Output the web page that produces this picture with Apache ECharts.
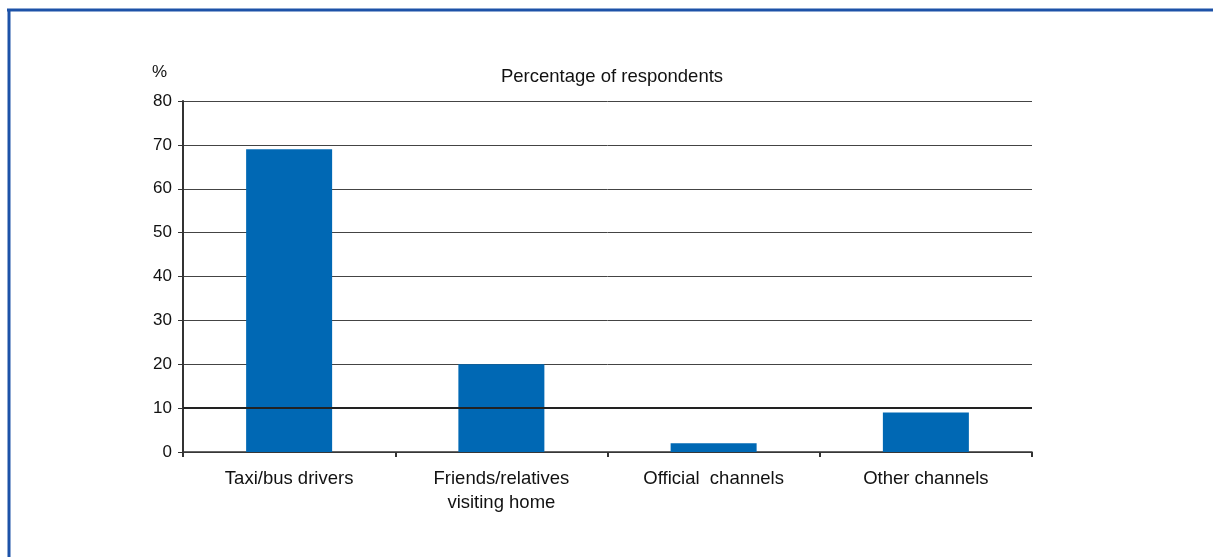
<!DOCTYPE html>
<html>
<head>
<meta charset="utf-8">
<script src="https://cdn.jsdelivr.net/npm/echarts@6/dist/echarts.min.js"></script>
<style>
  html, body { margin: 0; padding: 0; background: #fff; }
  #chart { width: 1213px; height: 557px; }
</style>
</head>
<body>
<div id="chart"></div>
<script>
// Sources of information, percentage of respondents
const categories = ['Taxi/bus drivers', 'Friends/relatives\nvisiting home', 'Official  channels', 'Other channels'];
const shares = [69, 20, 2, 9];
const yTicks = { min: 0, max: 80, interval: 10 };
const emphasisLine = 10;

const chart = echarts.init(document.getElementById('chart'), null, { renderer: 'canvas' });
const font = 'Liberation Sans, Arial, sans-serif';

chart.setOption({
  animation: false,
  backgroundColor: '#fff',
  title: {
    text: 'Percentage of respondents',
    left: 607,
    textAlign: 'center',
    top: 62,
    textStyle: { fontFamily: font, fontSize: 18.5, fontWeight: 'normal', color: '#111' }
  },
  graphic: [
    { type: 'line', shape: { x1: 7, y1: 10, x2: 1213, y2: 10 }, style: { stroke: '#1d52a8', lineWidth: 3 } },
    { type: 'line', shape: { x1: 9, y1: 9, x2: 9, y2: 557 }, style: { stroke: '#1d52a8', lineWidth: 3 } }
  ],
  grid: { left: 183, right: 181, top: 101, bottom: 105 },
  xAxis: {
    type: 'category',
    data: categories,
    boundaryGap: true,
    axisLine: { lineStyle: { color: '#333', width: 1.5 } },
    axisTick: { show: true, inside: false, length: 5, alignWithLabel: false, lineStyle: { color: '#333', width: 2 } },
    axisLabel: { fontFamily: font, fontSize: 18.5, color: '#111', margin: 15, lineHeight: 24 }
  },
  yAxis: {
    type: 'value',
    min: yTicks.min,
    max: yTicks.max,
    interval: yTicks.interval,
    name: '%',
    nameLocation: 'end',
    nameGap: 20,
    nameTextStyle: { fontFamily: font, fontSize: 17, color: '#111', align: 'right', padding: [0, 16, 0, 0] },
    axisLine: { show: true, lineStyle: { color: '#333', width: 2 } },
    axisTick: { show: true, length: 5, lineStyle: { color: '#333' } },
    axisLabel: { fontFamily: font, fontSize: 17, color: '#111', margin: 11 },
    splitLine: { show: true, lineStyle: { color: '#444', width: 1 } }
  },
  series: [
    {
      // carries the heavier reference line at 10, kept beneath the bars
      type: 'line',
      data: [],
      z: 1,
      silent: true,
      markLine: {
        silent: true,
        symbol: 'none',
        label: { show: false },
        lineStyle: { type: 'solid', color: '#222', width: 2 },
        data: [{ yAxis: emphasisLine }]
      }
    },
    {
      type: 'bar',
      data: shares,
      barWidth: 86,
      z: 3,
      itemStyle: { color: '#0068b4' }
    }
  ]
});
</script>
</body>
</html>
